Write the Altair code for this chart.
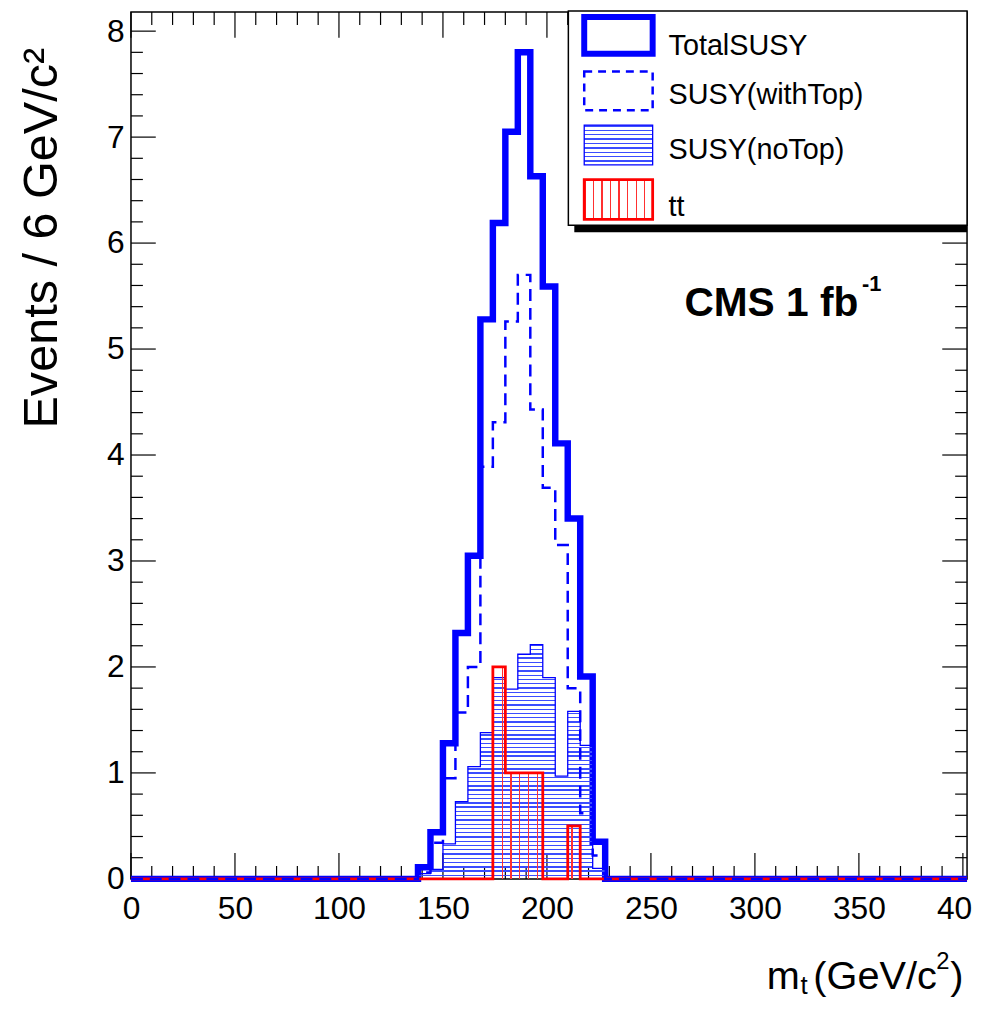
import altair as alt
import pandas as pd

FONT = "Liberation Sans"

# ---------------- data ----------------
BIN_WIDTH = 6          # GeV/c^2 per bin
N_BINS = 67            # 0 .. 402 GeV/c^2
FIRST_BIN = 23         # first listed bin starts at 138 GeV/c^2

# bins 138-144, 144-150, ..., 222-228
total_susy    = [0.11, 0.44, 1.28, 2.32, 3.05, 5.28, 6.19, 7.05, 7.80, 6.63, 5.59, 4.11, 3.40, 1.91, 0.35]
susy_with_top = [0.06, 0.34, 0.95, 1.57, 2.00, 3.89, 4.31, 5.26, 5.70, 4.43, 3.69, 3.15, 1.80, 0.62, 0.22]
susy_no_top   = [0.05, 0.09, 0.33, 0.73, 1.06, 1.38, 1.90, 1.79, 2.12, 2.21, 1.90, 0.97, 1.58, 1.26, 0.10]
ttbar         = [0.00, 0.00, 0.00, 0.00, 0.00, 0.00, 2.00, 1.00, 1.00, 1.00, 0.00, 0.00, 0.50, 0.00, 0.00]

series_names = ["TotalSUSY", "SUSY(withTop)", "SUSY(noTop)", "tt"]

x_major = [0, 50, 100, 150, 200, 250, 300, 350, 400]
x_minor = [v for v in range(10, 400, 10) if v % 50]
y_major = [0, 1, 2, 3, 4, 5, 6, 7, 8]
y_minor = [round(0.2 * i, 1) for i in range(1, 41) if i % 5]

X_MAX = N_BINS * BIN_WIDTH
Y_MAX = 8.18
W, H = 843, 874

BLUE = "#0000ff"
RED = "#ff0000"
CLEAR = "rgba(255,255,255,0)"


def full_hist(values):
    v = [0.0] * N_BINS
    for i, val in enumerate(values):
        v[FIRST_BIN + i] = val
    edges = [k * BIN_WIDTH for k in range(N_BINS)] + [N_BINS * BIN_WIDTH]
    return pd.DataFrame({"m": edges, "v": v + [0.0]})


def region_hist(values, start, stop):
    edges = [(FIRST_BIN + i) * BIN_WIDTH for i in range(start, stop + 1)]
    return pd.DataFrame({"m": edges, "v": list(values[start:stop]) + [0.0]})


def stripes(color, n, frac, vertical_lines):
    stops = []
    for i in range(n):
        a, b, c = i / n, (i + frac) / n, (i + 1) / n
        stops += [alt.GradientStop(color=color, offset=a),
                  alt.GradientStop(color=color, offset=b),
                  alt.GradientStop(color=CLEAR, offset=b),
                  alt.GradientStop(color=CLEAR, offset=c)]
    if vertical_lines:
        return alt.LinearGradient(gradient="linear", stops=stops, x1=0, x2=1, y1=0, y2=0)
    return alt.LinearGradient(gradient="linear", stops=stops, x1=0, x2=0, y1=0, y2=1)


xs = alt.Scale(domain=[0, X_MAX], nice=False, zero=False)
ys = alt.Scale(domain=[0, Y_MAX], nice=False, zero=True)
xaxis = alt.Axis(values=x_major, title=None, grid=False, ticks=False, domain=False,
                 labelFont=FONT, labelFontSize=32, labelColor="black", labelPadding=15,
                 labelFlush=False, labelOverlap=False, format="d")
yaxis = alt.Axis(values=y_major, title=None, grid=False, ticks=False, domain=False,
                 labelFont=FONT, labelFontSize=32, labelColor="black", labelPadding=7,
                 labelFlush=False, labelOverlap=False, format="d")


def X(f):
    return alt.X(f"{f}:Q", scale=xs, axis=xaxis)


def Y(f):
    return alt.Y(f"{f}:Q", scale=ys, axis=yaxis)


one = alt.Data(values=[{"k": 1}])
layers = []

# ---------------- ticks on all four sides (pointing inward) ----------------
for vals, ln in ((x_major, 26), (x_minor, 13)):
    d = pd.DataFrame({"t": vals})
    layers.append(alt.Chart(d).mark_rule(color="black", strokeWidth=1.2)
                  .encode(x=X("t"), y=alt.value(H), y2=alt.value(H - ln)))
    layers.append(alt.Chart(d).mark_rule(color="black", strokeWidth=1.2)
                  .encode(x=X("t"), y=alt.value(0), y2=alt.value(ln)))
for vals, ln in ((y_major, 25), (y_minor, 12)):
    d = pd.DataFrame({"t": vals})
    layers.append(alt.Chart(d).mark_rule(color="black", strokeWidth=1.2)
                  .encode(y=Y("t"), x=alt.value(0), x2=alt.value(ln)))
    layers.append(alt.Chart(d).mark_rule(color="black", strokeWidth=1.2)
                  .encode(y=Y("t"), x=alt.value(W), x2=alt.value(W - ln)))

# ---------------- histograms ----------------
layers.append(alt.Chart(full_hist(total_susy)).mark_line(
    interpolate="step-after", color=BLUE, strokeWidth=6.5, strokeJoin="miter")
    .encode(x=X("m"), y=Y("v")))

layers.append(alt.Chart(region_hist(susy_no_top, 0, 15)).mark_area(
    interpolate="step-after", fill=stripes("#3b4dff", 55, 0.33, False))
    .encode(x=X("m"), y=Y("v")))
layers.append(alt.Chart(full_hist(susy_no_top)).mark_line(
    interpolate="step-after", color=BLUE, strokeWidth=1.3)
    .encode(x=X("m"), y=Y("v")))

layers.append(alt.Chart(region_hist(ttbar, 6, 13)).mark_area(
    interpolate="step-after", fill=stripes("#ff3030", 10, 0.14, True))
    .encode(x=X("m"), y=Y("v")))
layers.append(alt.Chart(full_hist(ttbar)).mark_line(
    interpolate="step-after", color=RED, strokeWidth=2.8)
    .encode(x=X("m"), y=Y("v")))

layers.append(alt.Chart(full_hist(susy_with_top)).mark_line(
    interpolate="step-after", color=BLUE, strokeWidth=2.5, strokeDash=[12, 7])
    .encode(x=X("m"), y=Y("v")))

# ---------------- legend ----------------
layers.append(alt.Chart(one).mark_rect(fill="black").encode(
    x=alt.value(447), x2=alt.value(W), y=alt.value(6), y2=alt.value(222)))
layers.append(alt.Chart(one).mark_rect(fill="white", stroke="black", strokeWidth=1.5).encode(
    x=alt.value(441), x2=alt.value(W), y=alt.value(-1), y2=alt.value(215)))

layers.append(alt.Chart(one).mark_rect(fill="white", stroke=BLUE, strokeWidth=6).encode(
    x=alt.value(457), x2=alt.value(526), y=alt.value(5), y2=alt.value(42)))
layers.append(alt.Chart(one).mark_rect(fill="white", stroke=BLUE, strokeWidth=2.5,
                                       strokeDash=[8, 6]).encode(
    x=alt.value(457), x2=alt.value(526), y=alt.value(60), y2=alt.value(99)))
layers.append(alt.Chart(one).mark_rect(fill=stripes("#3b4dff", 9, 0.33, False),
                                       stroke=BLUE, strokeWidth=1.3).encode(
    x=alt.value(457), x2=alt.value(526), y=alt.value(114), y2=alt.value(154)))
layers.append(alt.Chart(one).mark_rect(fill=stripes("#ff3030", 8, 0.16, True),
                                       stroke=RED, strokeWidth=2.8).encode(
    x=alt.value(457), x2=alt.value(526), y=alt.value(169), y2=alt.value(209)))

for name, base in zip(series_names, [43, 93, 148, 206]):
    layers.append(alt.Chart(one).mark_text(align="left", baseline="alphabetic", font=FONT,
                                           fontSize=29, color="black").encode(
        x=alt.value(542), y=alt.value(base), text=alt.value(name)))

# ---------------- annotations & axis titles ----------------
layers.append(alt.Chart(one).mark_text(align="left", baseline="alphabetic", font=FONT,
                                       fontSize=41, fontWeight="bold", color="black").encode(
    x=alt.value(558), y=alt.value(306), text=alt.value("CMS 1 fb")))
layers.append(alt.Chart(one).mark_text(align="left", baseline="alphabetic", font=FONT,
                                       fontSize=22, fontWeight="bold", color="black").encode(
    x=alt.value(737), y=alt.value(281), text=alt.value("-1")))

layers.append(alt.Chart(one).mark_text(align="center", baseline="middle", font=FONT,
                                       fontSize=49, angle=270, color="black").encode(
    x=alt.value(-90), y=alt.value(228), text=alt.value("Events / 6 GeV/c²")))

layers.append(alt.Chart(one).mark_text(align="left", baseline="alphabetic", font=FONT,
                                       fontSize=40, color="black").encode(
    x=alt.value(641), y=alt.value(985), text=alt.value("m")))
layers.append(alt.Chart(one).mark_text(align="left", baseline="alphabetic", font=FONT,
                                       fontSize=26, color="black").encode(
    x=alt.value(675), y=alt.value(990), text=alt.value("t")))
layers.append(alt.Chart(one).mark_text(align="left", baseline="alphabetic", font=FONT,
                                       fontSize=40, color="black").encode(
    x=alt.value(688), y=alt.value(985), text=alt.value("(GeV/c")))
layers.append(alt.Chart(one).mark_text(align="left", baseline="alphabetic", font=FONT,
                                       fontSize=24, color="black").encode(
    x=alt.value(812), y=alt.value(965), text=alt.value("2")))
layers.append(alt.Chart(one).mark_text(align="left", baseline="alphabetic", font=FONT,
                                       fontSize=40, color="black").encode(
    x=alt.value(826), y=alt.value(985), text=alt.value(")")))

chart = alt.layer(*layers).properties(
    width=W, height=H,
    padding={"left": 124, "top": 0, "right": 6, "bottom": 116},
    autosize=alt.AutoSizeParams(type="none"),
    background="white",
).configure_view(stroke="black", strokeWidth=1.5)

chart.save("out.html", embed_options={"renderer": "svg", "actions": False})
